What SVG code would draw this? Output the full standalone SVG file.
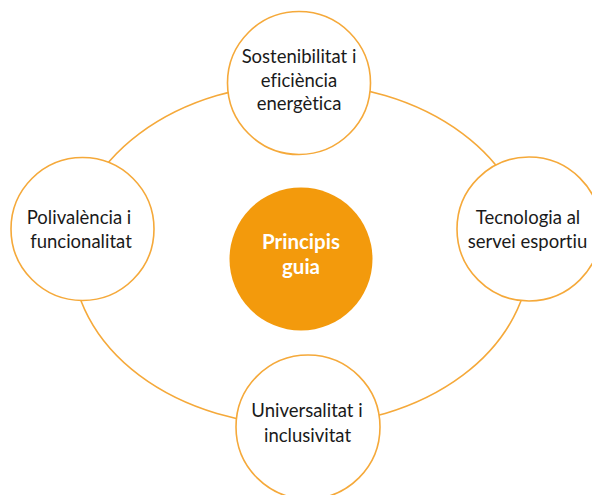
<svg xmlns="http://www.w3.org/2000/svg" width="592" height="495" viewBox="0 0 592 495">
<style>
.ring{fill:#FFFFFF;stroke:#F5A93A;stroke-width:1.6}
.core{fill:#F39A0C;stroke:none}
.lbl{font-family:Lato,"Open Sans","Liberation Sans",sans-serif;font-size:18.5px;fill:#1A1A1A;text-anchor:middle;font-variant-ligatures:none}
.clbl{font-family:Lato,"Open Sans","Liberation Sans",sans-serif;font-size:20.5px;font-weight:bold;fill:#FFFFFF;text-anchor:middle;font-variant-ligatures:none}
.conn{fill:none;stroke:#F5A93A;stroke-width:1.6}
</style>
<rect width="592" height="495" fill="#FFFFFF"/>
<g id="connectors">
<ellipse class="conn" cx="301" cy="254.5" rx="228.5" ry="171"/>
</g>
<g id="node-top">
<circle class="ring" cx="299" cy="83" r="71.5"/>
<text class="lbl" x="299" y="63">Sostenibilitat i</text>
<text class="lbl" x="299" y="86.5">eficiència</text>
<text class="lbl" x="299" y="110">energètica</text>
</g>
<g id="node-left">
<circle class="ring" cx="82.5" cy="229" r="71.5"/>
<text class="lbl" x="79" y="224">Polivalència i</text>
<text class="lbl" x="81" y="248">funcionalitat</text>
</g>
<g id="node-right">
<circle class="ring" cx="529" cy="229" r="72"/>
<text class="lbl" x="528" y="224">Tecnologia al</text>
<text class="lbl" x="527.5" y="248">servei esportiu</text>
</g>
<g id="node-bottom">
<circle class="ring" cx="308" cy="427" r="72"/>
<text class="lbl" x="307" y="417">Universalitat i</text>
<text class="lbl" x="307.5" y="442">inclusivitat</text>
</g>
<g id="node-center">
<circle class="core" cx="301" cy="259" r="71.5"/>
<text class="clbl" x="301" y="249">Principis</text>
<text class="clbl" x="301" y="274">guia</text>
</g>
</svg>
